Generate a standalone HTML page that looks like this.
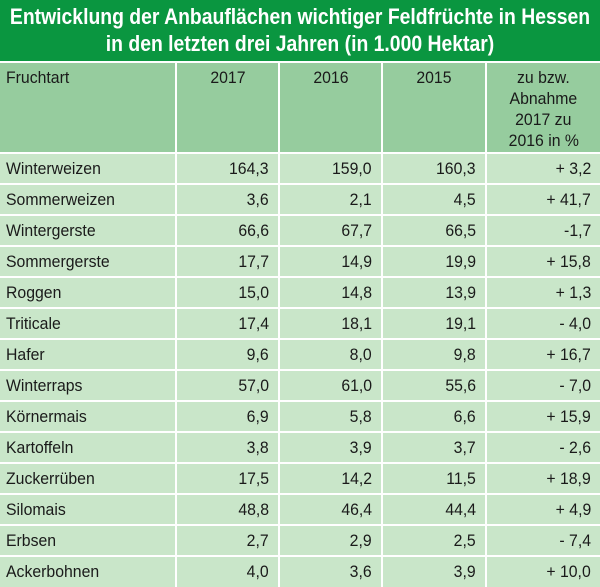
<!DOCTYPE html>
<html><head><meta charset="utf-8"><style>
html,body{margin:0;padding:0;width:600px;height:587px;overflow:hidden;background:#fff}
body{position:relative;font-family:"Liberation Sans",sans-serif;color:#1a1a1a}
.t{position:absolute;left:0;top:0;width:600px;height:61px;background:#0a9640;color:#fff;font-weight:bold;font-size:22px;white-space:nowrap}
.t div{position:absolute;left:300px;transform:translateX(-50%) scaleX(0.88);transform-origin:left center;line-height:26px}
.t div{transform:translateX(-50%) scaleX(0.88)}
.c{position:absolute;box-sizing:border-box;font-size:17px;white-space:nowrap;overflow:visible}
.c span{display:inline-block;transform:scaleX(0.93)}
.l span{transform-origin:left center}
.r span{transform-origin:right center}
.m span{transform-origin:center}
.h{background:#96cc9e;top:63px;height:89px;padding:4px 6px;line-height:21px}
.d{background:#c9e6c9;height:29px;line-height:29px;padding:0 9px 0 6px}
.l{text-align:left}.r{text-align:right}.m{text-align:center}
.a{left:0;width:175px}.b{left:177px;width:101px}.e{left:280px;width:101px}.f{left:383px;width:102px}.g{left:487px;width:113px}
</style></head><body>
<div class="t"><div style="top:4px;transform-origin:center">Entwicklung der Anbauflächen wichtiger Feldfrüchte in Hessen</div><div style="top:31px;transform-origin:center">in den letzten drei Jahren (in 1.000 Hektar)</div></div>
<div class="c h l a"><span>Fruchtart</span></div>
<div class="c h m b"><span>2017</span></div>
<div class="c h m e"><span>2016</span></div>
<div class="c h m f"><span>2015</span></div>
<div class="c h m g"><span>zu bzw.</span><br><span>Abnahme</span><br><span>2017 zu</span><br><span>2016 in %</span></div>

<div class="c d l a" style="top:154px"><span>Winterweizen</span></div><div class="c d r b" style="top:154px"><span>164,3</span></div><div class="c d r e" style="top:154px"><span>159,0</span></div><div class="c d r f" style="top:154px"><span>160,3</span></div><div class="c d r g" style="top:154px"><span>+ 3,2</span></div>
<div class="c d l a" style="top:185px"><span>Sommerweizen</span></div><div class="c d r b" style="top:185px"><span>3,6</span></div><div class="c d r e" style="top:185px"><span>2,1</span></div><div class="c d r f" style="top:185px"><span>4,5</span></div><div class="c d r g" style="top:185px"><span>+ 41,7</span></div>
<div class="c d l a" style="top:216px"><span>Wintergerste</span></div><div class="c d r b" style="top:216px"><span>66,6</span></div><div class="c d r e" style="top:216px"><span>67,7</span></div><div class="c d r f" style="top:216px"><span>66,5</span></div><div class="c d r g" style="top:216px"><span>-1,7</span></div>
<div class="c d l a" style="top:247px"><span>Sommergerste</span></div><div class="c d r b" style="top:247px"><span>17,7</span></div><div class="c d r e" style="top:247px"><span>14,9</span></div><div class="c d r f" style="top:247px"><span>19,9</span></div><div class="c d r g" style="top:247px"><span>+ 15,8</span></div>
<div class="c d l a" style="top:278px"><span>Roggen</span></div><div class="c d r b" style="top:278px"><span>15,0</span></div><div class="c d r e" style="top:278px"><span>14,8</span></div><div class="c d r f" style="top:278px"><span>13,9</span></div><div class="c d r g" style="top:278px"><span>+ 1,3</span></div>
<div class="c d l a" style="top:309px"><span>Triticale</span></div><div class="c d r b" style="top:309px"><span>17,4</span></div><div class="c d r e" style="top:309px"><span>18,1</span></div><div class="c d r f" style="top:309px"><span>19,1</span></div><div class="c d r g" style="top:309px"><span>- 4,0</span></div>
<div class="c d l a" style="top:340px"><span>Hafer</span></div><div class="c d r b" style="top:340px"><span>9,6</span></div><div class="c d r e" style="top:340px"><span>8,0</span></div><div class="c d r f" style="top:340px"><span>9,8</span></div><div class="c d r g" style="top:340px"><span>+ 16,7</span></div>
<div class="c d l a" style="top:371px"><span>Winterraps</span></div><div class="c d r b" style="top:371px"><span>57,0</span></div><div class="c d r e" style="top:371px"><span>61,0</span></div><div class="c d r f" style="top:371px"><span>55,6</span></div><div class="c d r g" style="top:371px"><span>- 7,0</span></div>
<div class="c d l a" style="top:402px"><span>Körnermais</span></div><div class="c d r b" style="top:402px"><span>6,9</span></div><div class="c d r e" style="top:402px"><span>5,8</span></div><div class="c d r f" style="top:402px"><span>6,6</span></div><div class="c d r g" style="top:402px"><span>+ 15,9</span></div>
<div class="c d l a" style="top:433px"><span>Kartoffeln</span></div><div class="c d r b" style="top:433px"><span>3,8</span></div><div class="c d r e" style="top:433px"><span>3,9</span></div><div class="c d r f" style="top:433px"><span>3,7</span></div><div class="c d r g" style="top:433px"><span>- 2,6</span></div>
<div class="c d l a" style="top:464px"><span>Zuckerrüben</span></div><div class="c d r b" style="top:464px"><span>17,5</span></div><div class="c d r e" style="top:464px"><span>14,2</span></div><div class="c d r f" style="top:464px"><span>11,5</span></div><div class="c d r g" style="top:464px"><span>+ 18,9</span></div>
<div class="c d l a" style="top:495px"><span>Silomais</span></div><div class="c d r b" style="top:495px"><span>48,8</span></div><div class="c d r e" style="top:495px"><span>46,4</span></div><div class="c d r f" style="top:495px"><span>44,4</span></div><div class="c d r g" style="top:495px"><span>+ 4,9</span></div>
<div class="c d l a" style="top:526px"><span>Erbsen</span></div><div class="c d r b" style="top:526px"><span>2,7</span></div><div class="c d r e" style="top:526px"><span>2,9</span></div><div class="c d r f" style="top:526px"><span>2,5</span></div><div class="c d r g" style="top:526px"><span>- 7,4</span></div>
<div class="c d l a" style="top:557px;height:30px"><span>Ackerbohnen</span></div><div class="c d r b" style="top:557px;height:30px"><span>4,0</span></div><div class="c d r e" style="top:557px;height:30px"><span>3,6</span></div><div class="c d r f" style="top:557px;height:30px"><span>3,9</span></div><div class="c d r g" style="top:557px;height:30px"><span>+ 10,0</span></div>
</body></html>
